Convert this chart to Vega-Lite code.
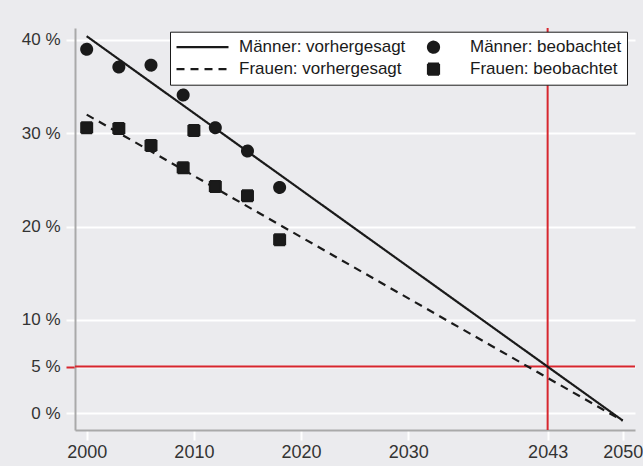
{
  "$schema": "https://vega.github.io/schema/vega-lite/v6.json",
  "width": 560,
  "height": 402,
  "autosize": {"type": "none"},
  "padding": {"left": 75, "top": 28, "right": 8, "bottom": 36},
  "background": "#ebebee",
  "config": {
    "view": {"stroke": null},
    "font": "Liberation Sans",
    "legend": {
      "title": null, "orient": "none", "legendX": 95, "legendY": 3.7,
      "direction": "horizontal", "columns": 2,
      "fillColor": "white", "strokeColor": "#1a1a1a", "padding": 5,
      "clipHeight": 21, "rowPadding": 1, "columnPadding": 0,
      "labelFont": "Liberation Sans", "labelFontSize": 17, "labelColor": "#1a1a1a",
      "labelOffset": 9, "labelLimit": 300,
      "symbolStrokeWidth": 2.2, "symbolStrokeColor": "#1a1a1a", "symbolFillColor": "#1a1a1a"
    }
  },
  "datasets": {
    "observed": [
      {"series": "Männer: beobachtet", "year": 2000, "pct": 39.0},
      {"series": "Männer: beobachtet", "year": 2003, "pct": 37.1},
      {"series": "Männer: beobachtet", "year": 2006, "pct": 37.3},
      {"series": "Männer: beobachtet", "year": 2009, "pct": 34.1},
      {"series": "Männer: beobachtet", "year": 2012, "pct": 30.6},
      {"series": "Männer: beobachtet", "year": 2015, "pct": 28.1},
      {"series": "Männer: beobachtet", "year": 2018, "pct": 24.2},
      {"series": "Frauen: beobachtet", "year": 2000, "pct": 30.6},
      {"series": "Frauen: beobachtet", "year": 2003, "pct": 30.5},
      {"series": "Frauen: beobachtet", "year": 2006, "pct": 28.7},
      {"series": "Frauen: beobachtet", "year": 2009, "pct": 26.3},
      {"series": "Frauen: beobachtet", "year": 2010, "pct": 30.3},
      {"series": "Frauen: beobachtet", "year": 2012, "pct": 24.3},
      {"series": "Frauen: beobachtet", "year": 2015, "pct": 23.3},
      {"series": "Frauen: beobachtet", "year": 2018, "pct": 18.6}
    ],
    "predicted": [
      {"series": "Männer: vorhergesagt", "year": 2000, "pct": 40.4},
      {"series": "Männer: vorhergesagt", "year": 2050, "pct": -0.77},
      {"series": "Frauen: vorhergesagt", "year": 2000, "pct": 32.0},
      {"series": "Frauen: vorhergesagt", "year": 2050, "pct": -0.8}
    ],
    "refPct": [{"pct": 5}],
    "refYear": [{"year": 2043}]
  },
  "layer": [
    {
      "data": {"name": "refPct"},
      "mark": {"type": "rule", "color": "#d7262e", "strokeWidth": 2},
      "encoding": {"y": {"field": "pct", "type": "quantitative"}}
    },
    {
      "data": {"name": "refYear"},
      "mark": {"type": "rule", "color": "#d7262e", "strokeWidth": 2},
      "encoding": {"x": {"field": "year", "type": "quantitative"}}
    },
    {
      "data": {"name": "predicted"},
      "mark": {"type": "line", "color": "#1a1a1a", "strokeWidth": 2.2},
      "encoding": {
        "x": {
          "field": "year",
          "type": "quantitative",
          "scale": {"domain": [1998.91, 2051.15], "nice": false, "zero": false},
          "axis": {
            "title": null,
            "values": [2000, 2010, 2020, 2030, 2043, 2050],
            "format": "d",
            "grid": false,
            "domainColor": "#a9a9a9",
            "domainWidth": 2,
            "tickColor": "white",
            "tickWidth": 2,
            "tickSize": 10,
            "labelFont": "Liberation Sans",
            "labelFontSize": 18,
            "labelColor": "#333333",
            "labelPadding": 3,
            "labelFlush": false,
            "labelOverlap": false
          }
        },
        "y": {
          "field": "pct",
          "type": "quantitative",
          "scale": {"domain": [-1.79, 41.28], "nice": false, "zero": false},
          "axis": {
            "title": null,
            "values": [0, 5, 10, 20, 30, 40],
            "labelExpr": "datum.value + ' %'",
            "grid": true,
            "gridColor": "white",
            "gridWidth": 2,
            "domainColor": "#a9a9a9",
            "domainWidth": 2,
            "tickColor": {"condition": {"test": "datum.value === 5", "value": "#d7262e"}, "value": "white"},
            "tickWidth": 2,
            "tickSize": 9,
            "labelFont": "Liberation Sans",
            "labelFontSize": 17,
            "labelColor": "#333333",
            "labelPadding": 6,
            "labelFlush": false,
            "labelOverlap": false
          }
        },
        "strokeDash": {
          "field": "series",
          "type": "nominal",
          "scale": {
            "domain": ["Männer: vorhergesagt", "Männer: beobachtet", "Frauen: vorhergesagt", "Frauen: beobachtet"],
            "range": [[1, 0], [1, 0], [8, 6], [1, 0]]
          }
        }
      }
    },
    {
      "data": {"name": "observed"},
      "mark": {"type": "point", "filled": true, "color": "#1a1a1a", "strokeWidth": 2, "opacity": 1},
      "encoding": {
        "x": {"field": "year", "type": "quantitative"},
        "y": {"field": "pct", "type": "quantitative"},
        "shape": {
          "field": "series",
          "type": "nominal",
          "scale": {
            "domain": ["Männer: vorhergesagt", "Männer: beobachtet", "Frauen: vorhergesagt", "Frauen: beobachtet"],
            "range": ["stroke", "circle", "stroke", "square"]
          }
        },
        "size": {
          "field": "series",
          "type": "nominal",
          "scale": {
            "type": "ordinal",
            "domain": ["Männer: vorhergesagt", "Männer: beobachtet", "Frauen: vorhergesagt", "Frauen: beobachtet"],
            "range": [2704, 121, 2704, 121]
          }
        },
        "stroke": {
          "field": "series",
          "type": "nominal",
          "scale": {
            "domain": ["Männer: vorhergesagt", "Männer: beobachtet", "Frauen: vorhergesagt", "Frauen: beobachtet"],
            "range": ["#1a1a1a", "#1a1a1a", "#1a1a1a", "#1a1a1a"]
          }
        },
        "strokeDash": {"field": "series", "type": "nominal"}
      }
    }
  ]
}
